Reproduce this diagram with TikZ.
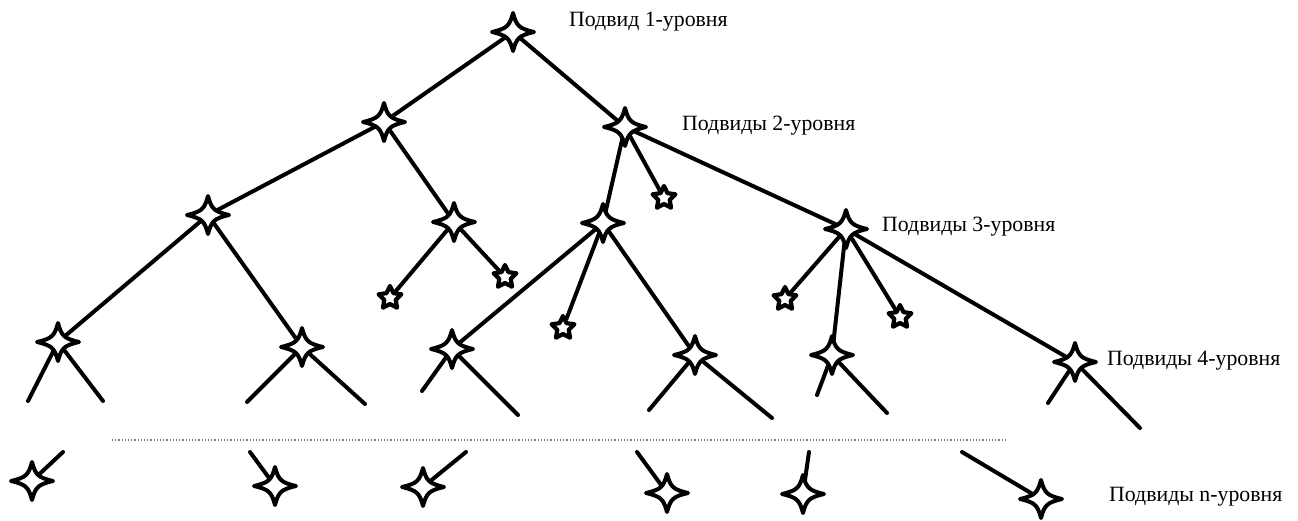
\documentclass[tikz,border=0pt]{standalone}
\usepackage{fontspec}
\setmainfont{Liberation Serif}
\usetikzlibrary{shapes.geometric}
\tikzset{
  link/.style={line width=4pt, line cap=round},
  hub/.style={circle, inner sep=0pt, minimum size=2pt},
  smallstar/.style={star, star points=5, star point ratio=2.0, minimum size=24pt,
    inner sep=0pt, draw, line width=4.2pt, fill=white, line join=round},
  lvl/.style={anchor=west, font=\fontsize{21.8}{24}\selectfont, text=black, inner sep=0pt},
  pics/sparkle/.style={code={
    \draw[line width=4pt, fill=white, line join=round]
      (0,-19) .. controls (3.5,-6) and (6,-3.5) .. (21,0)
      .. controls (6,3.5) and (3.5,6) .. (0,19)
      .. controls (-3.5,6) and (-6,3.5) .. (-21,0)
      .. controls (-6,-3.5) and (-3.5,-6) .. (0,-19) -- cycle;}}
}
\begin{document}
\begin{tikzpicture}[x=1pt, y=-1pt]
\useasboundingbox (0,0) rectangle (1298,520);
% big star hubs
\node[hub] (n1)  at (513,32) {};
\node[hub] (n2a) at (384,122) {};
\node[hub] (n2b) at (625,127) {};
\node[hub] (n3a) at (208,215) {};
\node[hub] (n3b) at (454,222) {};
\node[hub] (n3c) at (603,223) {};
\node[hub] (n3d) at (846,229) {};
\node[hub] (n4a) at (58,342) {};
\node[hub] (n4b) at (302,347) {};
\node[hub] (n4c) at (452,349) {};
\node[hub] (n4d) at (695,355) {};
\node[hub] (n4e) at (832,355) {};
\node[hub] (n4f) at (1075,362) {};
\node[hub] (b1) at (32,481) {};
\node[hub] (b2) at (275,486) {};
\node[hub] (b3) at (423,487) {};
\node[hub] (b4) at (667,493) {};
\node[hub] (b5) at (803,494) {};
\node[hub] (b6) at (1041,499) {};
% small stars
\node[smallstar] (s1) at (664,198) {};
\node[smallstar] (s2) at (390,298) {};
\node[smallstar] (s3) at (505,277) {};
\node[smallstar] (s4) at (563,328) {};
\node[smallstar] (s5) at (785,299) {};
\node[smallstar] (s6) at (900,317) {};
% free ends
\coordinate (a1) at (28,401);  \coordinate (a2) at (103,401);
\coordinate (c1) at (247,402); \coordinate (c2) at (365,404);
\coordinate (d1) at (422,391); \coordinate (d2) at (518,415);
\coordinate (e1) at (649,410); \coordinate (e2) at (772,418);
\coordinate (f1) at (817,395); \coordinate (f2) at (887,413);
\coordinate (g1) at (1048,403); \coordinate (g2) at (1140,428);
\coordinate (t1) at (63,452);
\coordinate (t2) at (250,452);
\coordinate (t3) at (466,452);
\coordinate (t4) at (637,452);
\coordinate (t5) at (809,452);
\coordinate (t6) at (962,452);
% connectors
\begin{scope}[link]
\draw (n1.center) -- (n2a.center);
\draw (n1.center) -- (n2b.center);
\draw (n2a.center) -- (n3a.center);
\draw (n2a.center) -- (n3b.center);
\draw (n2b.center) -- (n3c.center);
\draw (n2b.center) -- (s1);
\draw (n2b.center) -- (n3d.center);
\draw (n3b.center) -- (s2);
\draw (n3b.center) -- (s3);
\draw (n3a.center) -- (n4a.center);
\draw (n3a.center) -- (n4b.center);
\draw (n3c.center) -- (n4c.center);
\draw (n3c.center) -- (s4);
\draw (n3c.center) -- (n4d.center);
\draw (n3d.center) -- (s5);
\draw (n3d.center) -- (n4e.center);
\draw (n3d.center) -- (s6);
\draw (n3d.center) -- (n4f.center);
\draw (a1) -- (n4a.center) -- (a2);
\draw (c1) -- (n4b.center) -- (c2);
\draw (d1) -- (n4c.center) -- (d2);
\draw (e1) -- (n4d.center) -- (e2);
\draw (f1) -- (n4e.center) -- (f2);
\draw (g1) -- (n4f.center) -- (g2);
\draw (t1) -- (b1.center);
\draw (t2) -- (b2.center);
\draw (t3) -- (b3.center);
\draw (t4) -- (b4.center);
\draw (t5) -- (b5.center);
\draw (t6) -- (b6.center);
\end{scope}
% big stars on top
\foreach \n in {n1,n2a,n2b,n3a,n3b,n3c,n3d,n4a,n4b,n4c,n4d,n4e,n4f,b1,b2,b3,b4,b5,b6}
  \pic at (\n) {sparkle};
% dotted separator
\coordinate (dl) at (112,440);
\coordinate (dr) at (1007,440);
\draw[dotted, line width=1.2pt, black!50] (dl) -- (dr);
% labels
\node[lvl] (l1) at (569,22)  {Подвид 1-уровня};
\node[lvl] (l2) at (682,126) {Подвиды 2-уровня};
\node[lvl] (l3) at (882,227) {Подвиды 3-уровня};
\node[lvl] (l4) at (1107,361) {Подвиды 4-уровня};
\node[lvl] (l5) at (1109,497) {Подвиды n-уровня};
\end{tikzpicture}
\end{document}
